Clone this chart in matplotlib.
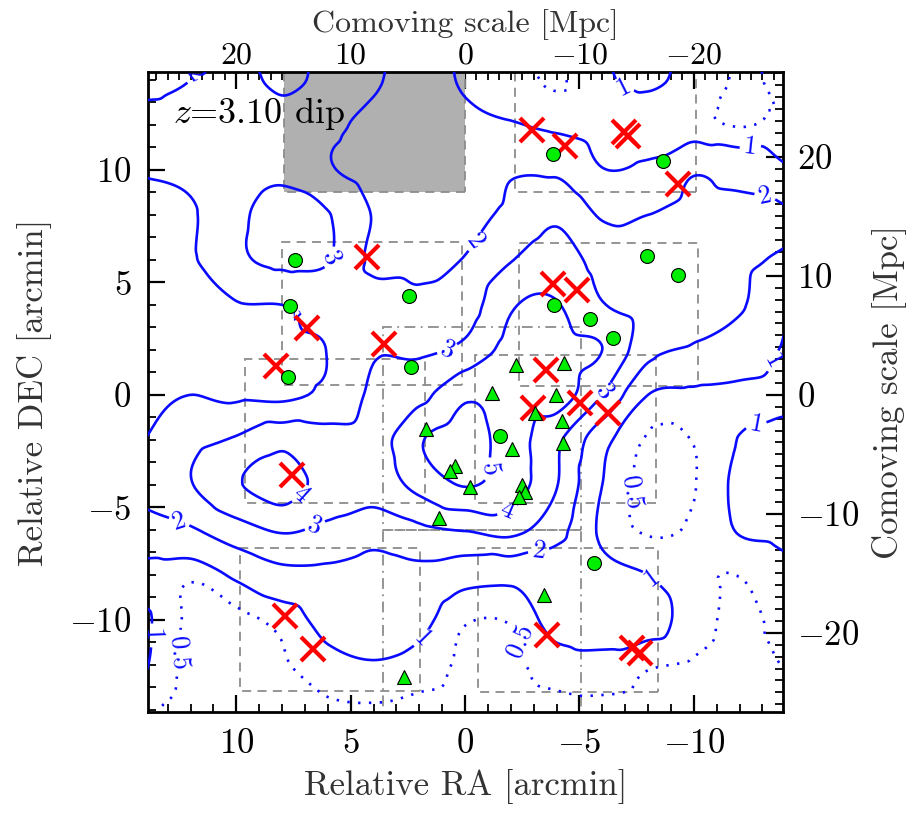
import numpy as np
import matplotlib
matplotlib.use('Agg')
import matplotlib.pyplot as plt
import matplotlib.tri as mtri
from matplotlib.patches import Rectangle
from matplotlib.ticker import MultipleLocator

plt.rcParams['font.family'] = 'cmr10'
plt.rcParams['mathtext.fontset'] = 'cm'
plt.rcParams['axes.formatter.use_mathtext'] = True

# density field on a 2 arcmin grid
ra_nodes = np.arange(14, -15, -2)
dec_nodes = np.arange(16, -17, -2)
density = np.array([
    [1.4, 1.7, 2.2, 1.6, 2.2, 2.2, 1.5, 0.85, 0.6, 0.45, 1.0, 1.2, 0.8, 0.5, 0.6],
    [1.7, 2.0, 2.3, 1.8, 2.2, 2.1, 1.5, 0.9, 0.7, 0.45, 0.9, 1.1, 0.8, 0.45, 0.6],
    [2.3, 2.4, 2.5, 2.4, 2.15, 1.8, 1.5, 1.2, 1.05, 0.85, 0.7, 0.7, 0.6, 0.47, 0.6],
    [2.05, 2.2, 2.6, 2.8, 2.1, 1.6, 1.4, 1.5, 1.9, 1.85, 1.03, 1.15, 1.9, 1.6, 1.1],
    [1.7, 1.9, 2.8, 3.3, 3.05, 1.95, 1.5, 1.7, 2.2, 2.8, 1.9, 2.0, 2.3, 2.3, 2.15],
    [1.6, 1.9, 2.8, 3.2, 3.05, 1.85, 1.8, 2.05, 2.95, 3.5, 2.6, 2.4, 2.4, 2.2, 1.85],
    [1.6, 1.7, 1.95, 2.0, 2.3, 2.4, 2.2, 2.5, 3.9, 4.05, 3.05, 2.6, 2.3, 2.1, 1.15],
    [1.6, 1.6, 1.7, 1.8, 2.02, 2.9, 2.85, 3.25, 4.3, 4.4, 4.0, 2.3, 1.9, 1.5, 0.9],
    [1.8, 2.0, 1.85, 1.8, 2.2, 3.2, 3.7, 4.85, 4.5, 4.5, 3.0, 1.0, 0.85, 0.85, 0.8],
    [2.0, 2.7, 3.1, 3.7, 3.4, 3.5, 4.9, 5.4, 4.5, 3.2, 1.3, 0.45, 0.52, 1.02, 1.3],
    [2.3, 2.95, 3.9, 4.5, 3.6, 3.5, 4.3, 5.05, 4.5, 3.05, 1.0, 0.4, 0.48, 1.15, 1.35],
    [1.6, 1.9, 2.6, 3.1, 2.8, 2.4, 2.8, 3.05, 3.3, 2.35, 0.85, 0.45, 0.55, 1.05, 1.2],
    [0.75, 0.6, 1.15, 1.7, 1.75, 1.6, 1.7, 1.35, 1.25, 1.35, 1.2, 1.0, 0.6, 0.51, 0.8],
    [1.1, 0.4, 0.35, 0.65, 1.25, 1.4, 1.2, 0.55, 0.55, 1.25, 1.35, 1.3, 0.7, 0.4, 0.65],
    [1.05, 0.35, 0.35, 0.45, 0.8, 0.95, 0.8, 0.4, 0.4, 0.75, 0.8, 0.55, 0.45, 0.35, 0.52],
    [0.6, 0.3, 0.3, 0.3, 0.42, 0.45, 0.35, 0.3, 0.3, 0.35, 0.4, 0.35, 0.3, 0.3, 0.4],
    [0.55, 0.25, 0.25, 0.25, 0.35, 0.4, 0.35, 0.25, 0.25, 0.3, 0.35, 0.3, 0.25, 0.25, 0.35],
])
levels = [0.5, 1, 2, 3, 4, 5]

# contour label positions (RA, DEC) per level
label_pos = {
    0.5: [(-7.0, -4.2), (-2.5, -10.9), (13.2, -11.3)],
    1: [(-6.9, 13.6), (-12.5, 10.8), (-13.0, 1.8), (-12.7, -1.0), (-8.2, -8.1),
        (1.9, -10.8), (13.5, -10.7)],
    2: [(11.1, 13.7), (7.4, 3.8), (-0.7, 6.6), (-13.1, 8.7), (-3.2, -6.7), (12.4, -5.3)],
    3: [(5.9, 6.1), (0.7, 1.8), (-5.8, 0.4), (6.6, -5.7)],
    4: [(7.2, -4.4), (-1.8, -5.0)],
    5: [(-0.35, -3.2)],
}

# red crosses
x_ra = [-2.93, -4.37, -6.95, -7.13, -9.31, 4.29, -3.85, -4.90, 6.91, 3.54, 8.26,
        -3.54, -2.97, -5.03, -6.25, 7.56, 7.87, 6.65, -3.59, -7.30, -7.65]
x_dec = [11.78, 11.07, 11.69, 11.51, 9.38, 6.13, 4.93, 4.67, 2.98, 2.27, 1.29,
         1.11, -0.58, -0.36, -0.80, -3.56, -9.82, -11.29, -10.67, -11.24, -11.47]

# green circles
c_ra = [7.43, 2.45, 7.65, 2.36, 7.74, -3.85, -8.66, -7.96, -9.31, -3.89, -5.47,
        -6.47, -1.53, -5.64]
c_dec = [6.0, 4.4, 3.96, 1.24, 0.8, 10.71, 10.4, 6.18, 5.33, 4.0, 3.38, 2.53,
         -1.82, -7.47]

# green triangles
t_ra = [-2.23, -4.33, -1.18, -3.98, 1.71, -3.06, -4.24, -2.06, -4.29, 0.44, 0.66,
        -0.22, -2.49, -2.62, -2.36, 1.14, -3.45, 2.67]
t_dec = [1.33, 1.42, 0.09, 0.0, -1.51, -0.8, -1.16, -2.4, -2.13, -3.16, -3.38,
         -4.09, -4.0, -4.31, -4.53, -5.47, -8.89, -12.53]

# field footprints (RA east edge, RA west edge, DEC low, DEC high)
dash_ra0 = [7.9, -2.2, 8.0, -2.35, 9.6, -0.45, 9.85, -0.55]
dash_ra1 = [0.0, -10.1, 0.15, -10.2, 1.75, -8.35, 1.95, -8.45]
dash_dec0 = [9.0, 9.0, 0.45, 0.4, -4.8, -4.8, -13.15, -13.2]
dash_dec1 = [15.4, 15.4, 6.8, 6.75, 1.6, 1.75, -6.8, -6.8]
dd_ra0 = [3.6, 3.6]
dd_ra1 = [-5.05, -5.05]
dd_dec0 = [-6.0, -15.5]
dd_dec1 = [3.0, -6.0]
mask_ra = (7.9, 0.0)
mask_dec = (9.0, 15.5)

fig = plt.figure(figsize=(9.13, 8.14), dpi=100)
ax = fig.add_axes([0.1621, 0.1253, 0.6955, 0.7862])

ax.add_patch(Rectangle((mask_ra[1], mask_dec[0]), mask_ra[0] - mask_ra[1],
                       mask_dec[1] - mask_dec[0], facecolor='#b0b0b0',
                       edgecolor='none', zorder=1))
for r0, r1, d0, d1 in zip(dash_ra0, dash_ra1, dash_dec0, dash_dec1):
    ax.add_patch(Rectangle((min(r0, r1), d0), abs(r0 - r1), d1 - d0, fill=False,
                           edgecolor='#8c8c8c', lw=1.3, ls=(0, (5, 3.5)), zorder=2))
for r0, r1, d0, d1 in zip(dd_ra0, dd_ra1, dd_dec0, dd_dec1):
    ax.add_patch(Rectangle((min(r0, r1), d0), abs(r0 - r1), d1 - d0, fill=False,
                           edgecolor='#8c8c8c', lw=1.3, ls=(0, (6, 3, 1, 3)), zorder=2))

gx, gy = np.meshgrid(ra_nodes, dec_nodes)
tri = mtri.Triangulation(gx.ravel(), gy.ravel())
interp = mtri.CubicTriInterpolator(tri, density.ravel(), kind='geom')
tri_f, z_f = mtri.UniformTriRefiner(tri).refine_field(density.ravel(),
                                                       triinterpolator=interp,
                                                       subdiv=4)
for lev in levels:
    ls = (0, (0.9, 3.2)) if lev < 1 else 'solid'
    cs = ax.tricontour(tri_f, z_f, levels=[lev], colors='#0a0aff', linewidths=1.9,
                       linestyles=[ls], zorder=3)
    ax.clabel(cs, manual=label_pos[lev], inline=True, inline_spacing=4,
              fontsize=19, fmt=lambda v: f'{v:g}')

ax.plot(x_ra, x_dec, 'x', color='red', ms=17, mew=3, zorder=5)
ax.plot(c_ra, c_dec, 'o', mfc='#00ee00', mec='black', mew=0.8, ms=10, zorder=6)
ax.plot(t_ra, t_dec, '^', mfc='#00ee00', mec='black', mew=0.8, ms=10, zorder=6)

ax.text(12.75, 12.5, r'$z$=3.10 dip', fontsize=26, ha='left', va='center', zorder=7)

ax.set_xlim(13.86, -13.9)
ax.set_ylim(-14.1, 14.35)
ax.set_xlabel('Relative RA [arcmin]', fontsize=25, color='#333333', labelpad=6)
ax.set_ylabel('Relative DEC [arcmin]', fontsize=25, color='#333333', labelpad=12)
ax.xaxis.set_major_locator(MultipleLocator(5))
ax.xaxis.set_minor_locator(MultipleLocator(1))
ax.yaxis.set_major_locator(MultipleLocator(5))
ax.yaxis.set_minor_locator(MultipleLocator(1))
ax.tick_params(which='both', direction='in', top=False, right=False, labelsize=25)
ax.tick_params(axis='x', pad=12)
ax.tick_params(axis='y', pad=12)
ax.tick_params(which='major', length=12, width=1.6)
ax.tick_params(which='minor', length=6, width=1.3)
for s in ax.spines.values():
    s.set_linewidth(2)

secx = ax.secondary_xaxis('top', functions=(lambda x: x * 2.0, lambda m: m / 2.0))
secx.xaxis.set_major_locator(MultipleLocator(10))
secx.xaxis.set_minor_locator(MultipleLocator(1))
secx.tick_params(which='both', direction='in', labelsize=23, pad=2)
secx.tick_params(which='major', length=12, width=1.6)
secx.tick_params(which='minor', length=6, width=1.3)
secx.set_xlabel('Comoving scale [Mpc]', fontsize=23, color='#333333', labelpad=7)

secy = ax.secondary_yaxis('right', functions=(lambda y: y * 1.89, lambda m: m / 1.89))
secy.yaxis.set_major_locator(MultipleLocator(10))
secy.yaxis.set_minor_locator(MultipleLocator(1))
secy.tick_params(which='both', direction='in', labelsize=25, pad=10)
secy.tick_params(which='major', length=12, width=1.6)
secy.tick_params(which='minor', length=6, width=1.3)
secy.set_ylabel('Comoving scale [Mpc]', fontsize=25, color='#333333', labelpad=9)

fig.savefig('out.png', dpi=100)
